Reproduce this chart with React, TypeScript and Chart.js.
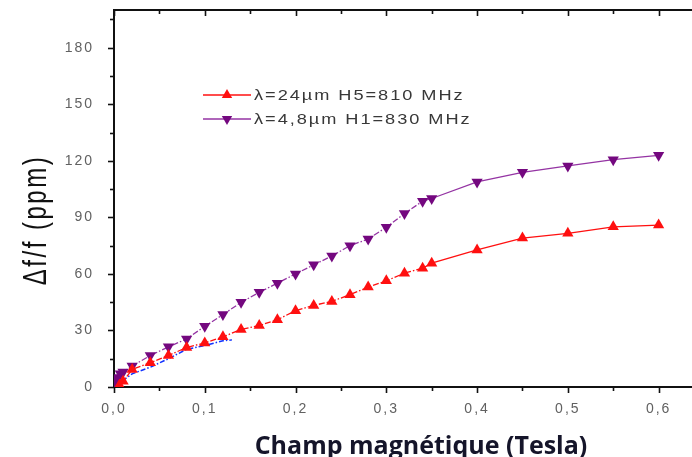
import React, { useEffect, useRef } from 'react';
import { Chart, registerables } from 'chart.js';

Chart.register(...registerables);

// ---- data ----
const redX = [0.006, 0.01, 0.02, 0.04, 0.06, 0.08, 0.1, 0.12, 0.14, 0.16, 0.18, 0.2, 0.22, 0.24, 0.26, 0.28, 0.3, 0.32, 0.34, 0.35, 0.4, 0.45, 0.5, 0.55, 0.6];
const redY = [1, 3, 9.3, 12.9, 16.7, 21, 23.4, 26.6, 30.5, 32.6, 35.7, 40.5, 43.3, 45.4, 49, 53, 56.3, 60.4, 63, 65.7, 72.7, 79, 81.5, 85, 85.9];

const purpleX = [0.001, 0.004, 0.007, 0.01, 0.02, 0.04, 0.06, 0.08, 0.1, 0.12, 0.14, 0.16, 0.18, 0.2, 0.22, 0.24, 0.26, 0.28, 0.3, 0.32, 0.34, 0.35, 0.4, 0.45, 0.5, 0.55, 0.6];
const purpleY = [3, 5, 7, 8, 11.1, 16.7, 21.3, 25.5, 32.2, 38.4, 44.9, 50.2, 55.1, 60, 64.8, 69.5, 75, 78.5, 84.7, 92, 98.6, 100, 108.8, 113.9, 117.3, 120.6, 122.9];

const blueX = [0, 0.02, 0.04, 0.06, 0.08, 0.1, 0.12, 0.13];
const blueY = [0, 7, 10.5, 15, 20, 22, 24.5, 25];

const xTickLabels = [0, 0.1, 0.2, 0.3, 0.4, 0.5, 0.6];
const yTickLabels = [0, 30, 60, 90, 120, 150, 180];

const legendLabels = ['λ=24µm H5=810 MHz', 'λ=4,8µm H1=830 MHz'];
const xTitle = 'Champ magnétique (Tesla)';
const yTitle = 'Δf/f (ppm)';

const RED = '#ff1010';
const PURPLE_LINE = '#9433a3';
const PURPLE_MARK = '#74087f';

function toPts(xs: number[], ys: number[]) {
  return xs.map((x, i) => ({ x, y: ys[i] }));
}

function drawTri(ctx: CanvasRenderingContext2D, cx: number, cy: number, r: number, down: boolean, color: string) {
  const s = down ? -1 : 1;
  const h = r * Math.sin(Math.PI / 3);
  ctx.beginPath();
  ctx.moveTo(cx, cy - s * r);
  ctx.lineTo(cx - h, cy + s * r / 2);
  ctx.lineTo(cx + h, cy + s * r / 2);
  ctx.closePath();
  ctx.fillStyle = color;
  ctx.fill();
}

const decor = {
  id: 'decor',
  beforeDraw(chart: any) {
    chart.ctx.letterSpacing = '2px';
  },
  beforeDatasetsDraw(chart: any) {
    const { ctx, chartArea: a, scales } = chart;
    const x = scales.x;
    const y = scales.y;
    ctx.save();
    ctx.letterSpacing = '0px';
    ctx.strokeStyle = '#111';
    ctx.lineWidth = 2;
    ctx.strokeRect(a.left, a.top, a.right - a.left, a.bottom - a.top);
    ctx.lineWidth = 1.6;
    const seg = (x1: number, y1: number, x2: number, y2: number) => {
      ctx.beginPath();
      ctx.moveTo(x1, y1);
      ctx.lineTo(x2, y2);
      ctx.stroke();
    };
    for (let i = 0; i <= 13; i++) {
      const px = Math.round(x.getPixelForValue(i * 0.05)) + 0.5;
      const len = i % 2 === 0 ? 6 : 4;
      seg(px, a.bottom, px, a.bottom + len);
      seg(px, a.top, px, a.top + len);
    }
    for (let i = 0; i <= 13; i++) {
      const py = Math.round(y.getPixelForValue(i * 15)) + 0.5;
      const len = i % 2 === 0 ? 6 : 4;
      seg(a.left - len, py, a.left, py);
    }
    ctx.restore();
  },
  afterDraw(chart: any) {
    const ctx: CanvasRenderingContext2D = chart.ctx;
    ctx.save();
    // legend
    const rows = [
      { y: 95, line: RED, mark: RED, down: false },
      { y: 119, line: PURPLE_LINE, mark: PURPLE_MARK, down: true },
    ];
    rows.forEach((r, i) => {
      ctx.strokeStyle = r.line;
      ctx.lineWidth = 1.3;
      ctx.beginPath();
      ctx.moveTo(203, r.y);
      ctx.lineTo(251, r.y);
      ctx.stroke();
      drawTri(ctx, 227, r.y, 6, r.down, r.mark);
      ctx.save();
      ctx.translate(254, r.y + 1);
      ctx.scale(1.3, 1);
      (ctx as any).letterSpacing = '1.5px';
      ctx.font = '14px "Liberation Sans", Arial, sans-serif';
      ctx.fillStyle = '#383838';
      ctx.textAlign = 'left';
      ctx.textBaseline = 'middle';
      ctx.fillText(legendLabels[i], 0, 0);
      ctx.restore();
    });
    // x title
    (ctx as any).letterSpacing = '0px';
    ctx.font = 'bold 25px "Open Sans", sans-serif';
    ctx.fillStyle = '#15152a';
    ctx.textAlign = 'center';
    ctx.textBaseline = 'alphabetic';
    ctx.fillText(xTitle, 421, 454);
    // y title (stretched horizontally like the reference)
    ctx.translate(46, 220);
    ctx.rotate(-Math.PI / 2);
    ctx.scale(1, 1.4);
    (ctx as any).letterSpacing = '2.5px';
    ctx.font = '24px "Liberation Sans", Arial, sans-serif';
    ctx.fillStyle = '#111';
    ctx.textAlign = 'center';
    ctx.textBaseline = 'alphabetic';
    ctx.fillText(yTitle, 0, 0);
    ctx.restore();
    (ctx as any).letterSpacing = '0px';
  },
};

export default function App() {
  const ref = useRef<HTMLCanvasElement | null>(null);
  useEffect(() => {
    if (!ref.current) return;
    const dashLow = (ctx: any) => (ctx.p1.parsed.x <= 0.34 ? [6, 2, 1.5, 2] : undefined);
    const chart = new Chart(ref.current, {
      type: 'scatter',
      data: {
        datasets: [
          {
            label: 'blue',
            data: toPts(blueX, blueY),
            showLine: true,
            borderColor: '#1030ff',
            borderWidth: 1.5,
            borderDash: [5, 2, 1.5, 2],
            pointRadius: 0,
            order: 3,
          },
          {
            label: legendLabels[1],
            data: toPts(purpleX, purpleY),
            showLine: true,
            borderColor: PURPLE_LINE,
            borderWidth: 1.3,
            backgroundColor: PURPLE_MARK,
            pointBackgroundColor: PURPLE_MARK,
            pointBorderColor: PURPLE_MARK,
            pointBorderWidth: 0,
            pointStyle: 'triangle',
            rotation: 180,
            pointRadius: 6.5,
            segment: { borderDash: dashLow },
            order: 2,
          },
          {
            label: legendLabels[0],
            data: toPts(redX, redY),
            showLine: true,
            borderColor: RED,
            borderWidth: 1.3,
            backgroundColor: RED,
            pointBackgroundColor: RED,
            pointBorderColor: RED,
            pointBorderWidth: 0,
            pointStyle: 'triangle',
            pointRadius: 6.5,
            segment: { borderDash: dashLow },
            order: 1,
          },
        ],
      },
      options: {
        animation: false,
        responsive: false,
        layout: { padding: { top: 10, right: 16, left: 0, bottom: 0 } },
        plugins: { legend: { display: false }, tooltip: { enabled: false } },
        scales: {
          x: {
            type: 'linear',
            min: 0,
            max: 0.65,
            grid: { display: false, drawTicks: false },
            border: { display: false },
            ticks: {
              stepSize: 0.05,
              autoSkip: false,
              maxRotation: 0,
              padding: 14,
              color: '#616161',
              font: { family: '"Liberation Sans", Arial, sans-serif', size: 14 },
              callback: (v: any) => {
                const n = Number(v);
                const hit = xTickLabels.find((t) => Math.abs(t - n) < 1e-6);
                return hit === undefined ? '' : hit.toFixed(1).replace('.', ',');
              },
            },
            afterFit: (s: any) => {
              s.height = 70;
              s.paddingLeft = 0;
              s.paddingRight = 0;
            },
          },
          y: {
            type: 'linear',
            min: 0,
            max: 200,
            grid: { display: false, drawTicks: false },
            border: { display: false },
            ticks: {
              stepSize: 15,
              autoSkip: false,
              padding: 20,
              color: '#616161',
              font: { family: '"Liberation Sans", Arial, sans-serif', size: 14 },
              callback: (v: any) => {
                const n = Number(v);
                return yTickLabels.includes(n) ? String(n) : '';
              },
            },
            afterFit: (s: any) => {
              s.width = 114;
              s.paddingTop = 0;
              s.paddingBottom = 0;
            },
          },
        },
      },
      plugins: [decor],
    } as any);
    return () => chart.destroy();
  }, []);
  return (
    <div style={{ position: 'absolute', left: 0, top: 0, width: 692, height: 457, overflow: 'hidden', background: '#fff' }}>
      <canvas ref={ref} width={720} height={457} style={{ width: 720, height: 457, display: 'block' }} />
    </div>
  );
}
